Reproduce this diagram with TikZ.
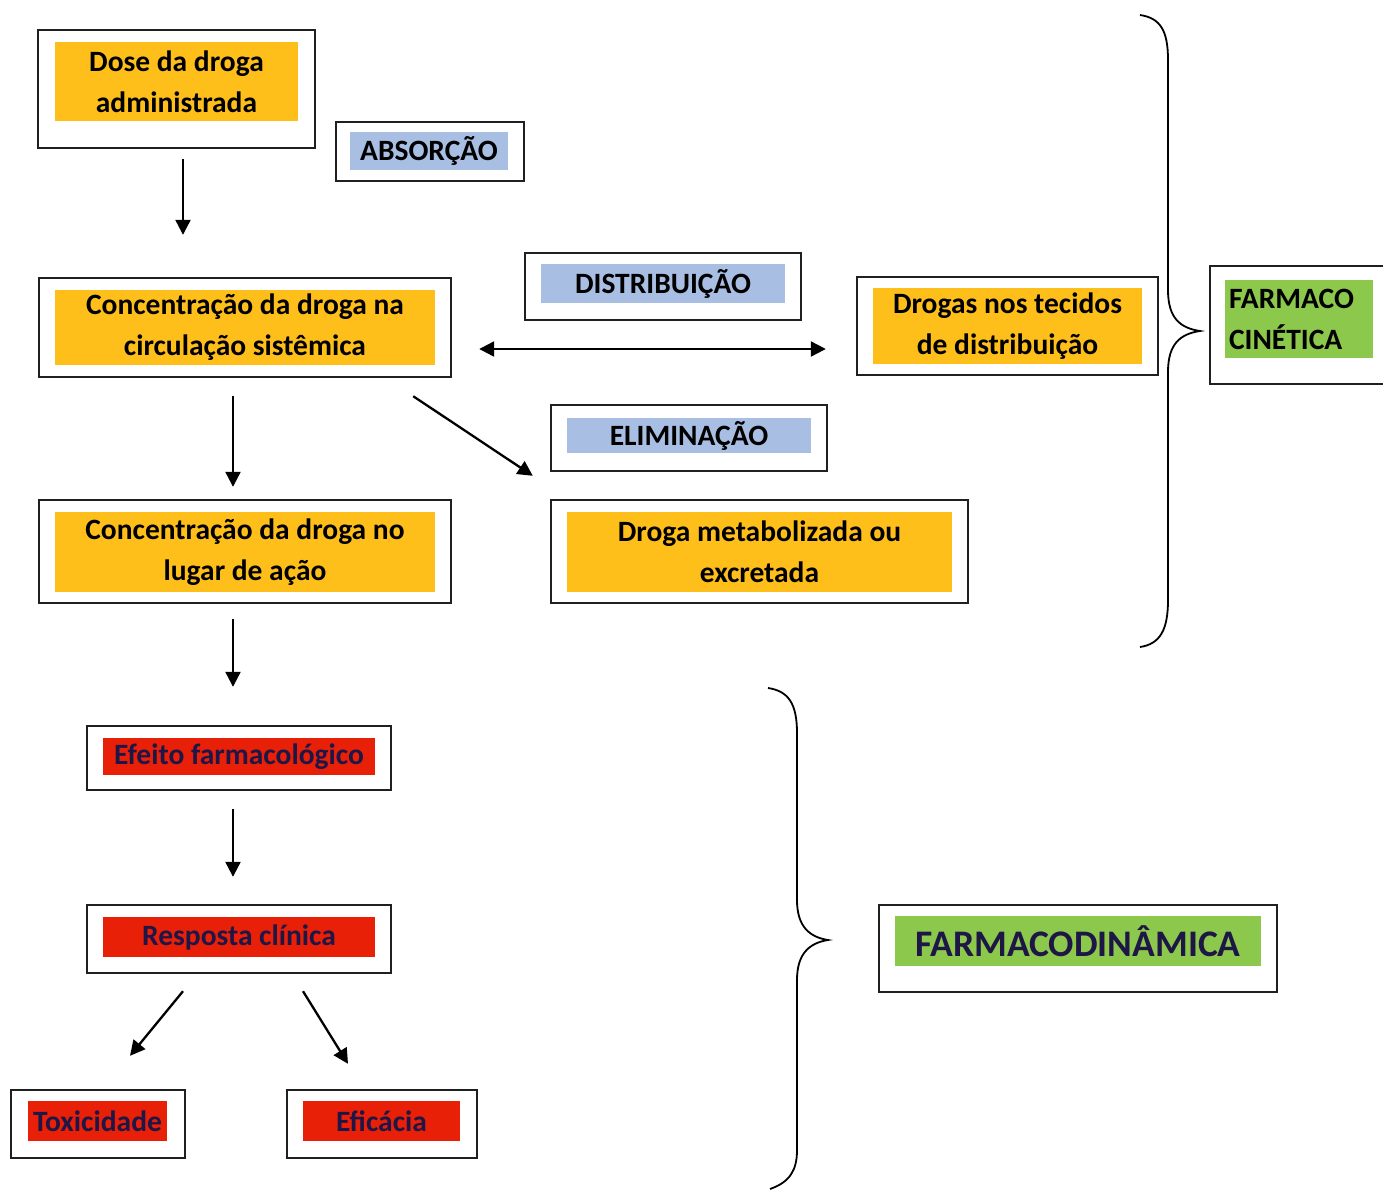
\documentclass[tikz,border=0pt]{standalone}
\usepackage{fontspec}
\setmainfont{Carlito}
\usetikzlibrary{arrows.meta,decorations.pathreplacing,calc}
\definecolor{gold}{HTML}{FFBF1A}
\definecolor{paleblue}{HTML}{A8BEE2}
\definecolor{lgreen}{HTML}{8CC84B}
\definecolor{bred}{HTML}{E82008}
\definecolor{navy}{HTML}{1E1646}
\definecolor{edge}{HTML}{202020}
\begin{document}
\begin{tikzpicture}[x=1pt,y=-1pt,
  frame/.style={draw=edge,line width=2.4pt,fill=white,inner sep=0pt},
  fillbox/.style={fill=#1,inner sep=0pt,align=center,font=\fontsize{29.5}{41}\selectfont\bfseries},
  tip/.style={Triangle[length=15pt,width=15pt]},
  arr/.style={line width=2.3pt,-{Triangle[length=15pt,width=15pt]}},
  darr/.style={line width=2.3pt,{Triangle[length=15pt,width=15pt]}-{Triangle[length=15pt,width=15pt]}},
  brace/.style={line width=1.8pt}
]
\path[use as bounding box,fill=white] (0,0) rectangle (1383,1189);

% Dose
\node[frame,minimum width=277,minimum height=118] (dose) at (176.5,89) {};
\node[fillbox=gold,minimum width=243,minimum height=79] (dose-in) at (176.5,81.5) {Dose da droga\\administrada};
% Absorcao
\node[frame,minimum width=188,minimum height=59] (abs) at (430,151.5) {};
\node[fillbox=paleblue,minimum width=158,minimum height=38] (abs-in) at (429,151) {ABSORÇÃO};
% Circulacao
\node[frame,minimum width=412,minimum height=99] (circ) at (245,327.5) {};
\node[fillbox=gold,minimum width=380,minimum height=75] (circ-in) at (245,327.5) {Concentração da droga na\\circulação sistêmica};
% Distribuicao
\node[frame,minimum width=276,minimum height=67] (dist) at (663,286.5) {};
\node[fillbox=paleblue,minimum width=244,minimum height=39] (dist-in) at (663,283.5) {DISTRIBUIÇÃO};
% Tecidos
\node[frame,minimum width=301,minimum height=98] (tec) at (1007.5,326) {};
\node[fillbox=gold,minimum width=269,minimum height=76] (tec-in) at (1007.5,326) {Drogas nos tecidos\\de distribuição};
% Farmaco cinetica
\node[frame,minimum width=180,minimum height=118] (fc) at (1300,325) {};
\node[fillbox=lgreen,minimum width=148,minimum height=78,align=left,text width=140] (fc-in) at (1299,319) {FARMACO\\CINÉTICA};
% Eliminacao
\node[frame,minimum width=276,minimum height=66] (elim) at (689,438) {};
\node[fillbox=paleblue,minimum width=244,minimum height=35] (elim-in) at (689,435.5) {ELIMINAÇÃO};
% Lugar de acao
\node[frame,minimum width=412,minimum height=103] (lug) at (245,551.5) {};
\node[fillbox=gold,minimum width=380,minimum height=80] (lug-in) at (245,552) {Concentração da droga no\\lugar de ação};
% Metabolizada
\node[frame,minimum width=417,minimum height=103] (met) at (759.5,551.5) {};
\node[fillbox=gold,minimum width=385,minimum height=80] (met-in) at (759.5,552) {Droga metabolizada ou\\excretada};
% Efeito
\node[frame,minimum width=304,minimum height=64] (efe) at (239,758) {};
\node[fillbox=bred,text=navy,minimum width=272,minimum height=37] (efe-in) at (239,756.5) {Efeito farmacológico};
% Resposta
\node[frame,minimum width=304,minimum height=68] (resp) at (239,939) {};
\node[fillbox=bred,text=navy,minimum width=272,minimum height=40] (resp-in) at (239,937) {Resposta clínica};
% Toxicidade
\node[frame,minimum width=174,minimum height=68] (tox) at (98,1124) {};
\node[fillbox=bred,text=navy,minimum width=139,minimum height=40] (tox-in) at (97.5,1121) {Toxicidade};
% Eficacia
\node[frame,minimum width=190,minimum height=68] (efi) at (382,1124) {};
\node[fillbox=bred,text=navy,minimum width=157,minimum height=40] (efi-in) at (381.5,1121) {Eficácia};
% Farmacodinamica
\node[frame,minimum width=398,minimum height=87] (fd) at (1078,948.5) {};
\node[fillbox=lgreen,text=navy,minimum width=366,minimum height=50,font=\fontsize{37.5}{42}\selectfont\bfseries] (fd-in) at (1078,941) {FARMACODINÂMICA};

% arrows
\draw[arr] ([xshift=6.5pt,yshift=-10pt]dose.south) -- ([xshift=-62pt,yshift=42pt]circ.north);
\draw[arr] ([xshift=-12pt,yshift=-18pt]circ.south) -- ([xshift=-12pt,yshift=12pt]lug.north);
\draw[arr] ([xshift=-39pt,yshift=-18pt]circ.south east) -- ([xshift=-17pt,yshift=23pt]met.north west);
\draw[darr] ([xshift=27pt,yshift=-21.5pt]circ.east) -- ([xshift=-30pt,yshift=-23pt]tec.west);
\draw[arr] ([xshift=-12pt,yshift=-15pt]lug.south) -- ([xshift=-6pt,yshift=38pt]efe.north);
\draw[arr] ([xshift=-6pt,yshift=-18pt]efe.south) -- ([xshift=-6pt,yshift=27pt]resp.north);
\draw[arr] ([xshift=-56pt,yshift=-17pt]resp.south) -- ([xshift=32pt,yshift=33pt]tox.north);
\draw[arr] ([xshift=64pt,yshift=-17pt]resp.south) -- ([xshift=-34pt,yshift=25pt]efi.north);

% braces
\coordinate (b1t) at (1140,15);
\coordinate (b1b) at (1140,647);
\draw[brace] (b1t) .. controls (1160,18) and (1168,30) .. (1168,60)
  -- (1168,290) .. controls (1168,318) and (1180,328) .. (1200,331)
  .. controls (1180,334) and (1168,344) .. (1168,372)
  -- (1168,600) .. controls (1168,630) and (1160,644) .. (b1b);
\coordinate (b2t) at (768,688);
\coordinate (b2b) at (770,1189);
\draw[brace] (b2t) .. controls (788,691) and (797,703) .. (797,733)
  -- (797,900) .. controls (797,926) and (809,937) .. (828,940)
  .. controls (809,943) and (797,954) .. (797,980)
  -- (797,1150) .. controls (797,1170) and (790,1182) .. (b2b);
\end{tikzpicture}
\end{document}
